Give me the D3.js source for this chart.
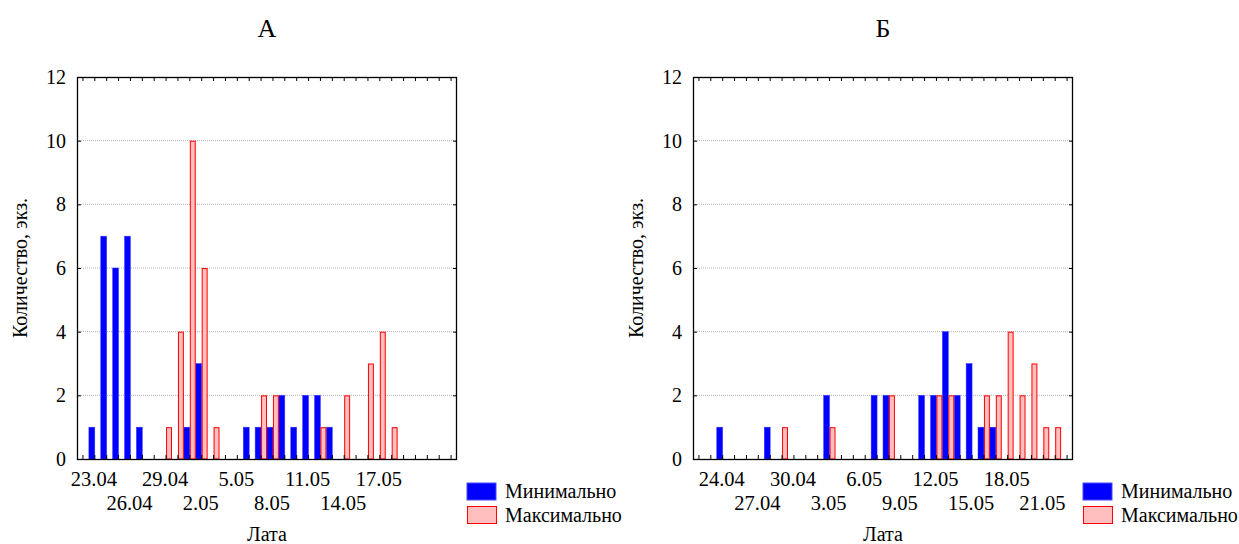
<!DOCTYPE html>
<html><head><meta charset="utf-8">
<script src="https://cdn.jsdelivr.net/npm/d3@7"></script>
</head>
<body style="margin:0;background:#fff"><svg id="c" width="1239" height="544"></svg>
<script>
// categories: days from 22.04 to 23.05
const dates = ["22.04","23.04","24.04","25.04","26.04","27.04","28.04","29.04","30.04",
  "1.05","2.05","3.05","4.05","5.05","6.05","7.05","8.05","9.05","10.05","11.05","12.05",
  "13.05","14.05","15.05","16.05","17.05","18.05","19.05","20.05","21.05","22.05","23.05"];
// Panel А
const minA = [0,1,7,6,7,1,0,0,0, 1,3,0,0,0,1,1,1,2,1,2,2, 1,0,0,0,0,0,0,0,0,0,0];
const maxA = [0,0,0,0,0,0,0,1,4, 10,6,1,0,0,0,2,2,0,0,0,1, 0,2,0,3,4,1,0,0,0,0,0];
const labelsA = ["23.04","26.04","29.04","2.05","5.05","8.05","11.05","14.05","17.05"];
// Panel Б
const minB = [0,0,1,0,0,0,1,0,0, 0,0,2,0,0,0,2,2,0,0,2,2, 4,2,3,1,1,0,0,0,0,0,0];
const maxB = [0,0,0,0,0,0,0,1,0, 0,0,1,0,0,0,0,2,0,0,0,2, 2,0,0,2,2,4,2,3,1,1,0];
const labelsB = ["24.04","27.04","30.04","3.05","6.05","9.05","12.05","15.05","18.05","21.05"];
const yTicks = [0,2,4,6,8,10,12];
const seriesNames = ["Минимально","Максимально"];

const FONT = "Liberation Serif";
const svg = d3.select("#c");

function panel(opt){
  const {x0, title, mins, maxs, labels} = opt;
  const W = 380, top = 77, bottom = 459;
  const g = svg.append("g");
  const x = d3.scaleBand().domain(dates).range([x0, x0+W]).padding(0);
  const sub = d3.scaleBand().domain(["min","max"]).range([0, x.bandwidth()]).padding(0);
  const y = d3.scaleLinear().domain([0,12]).range([bottom, top]);

  // grid
  g.append("g").selectAll("line").data(yTicks.filter(v=>v>0 && v<12)).join("line")
    .attr("x1", x0).attr("x2", x0+W).attr("y1", d=>y(d)).attr("y2", d=>y(d))
    .attr("stroke","#b4b4b4").attr("stroke-width",1).attr("stroke-dasharray","1,1");

  // bars
  const data = dates.map((d,i)=>({d, min:mins[i], max:maxs[i]}));
  g.append("g").selectAll("rect").data(data.filter(e=>e.min>0)).join("rect")
    .attr("x", e=>x(e.d)+sub("min")).attr("width", sub.bandwidth())
    .attr("y", e=>y(e.min)).attr("height", e=>y(0)-y(e.min))
    .attr("fill","#0000ff").attr("stroke","#3a3aff").attr("stroke-width",0.5);
  g.append("g").selectAll("rect").data(data.filter(e=>e.max>0)).join("rect")
    .attr("x", e=>x(e.d)+sub("max")+0.5).attr("width", sub.bandwidth()-1)
    .attr("y", e=>y(e.max)+0.5).attr("height", e=>y(0)-y(e.max)-0.5)
    .attr("fill","#ffbfbf").attr("stroke","#ff0000").attr("stroke-width",1);

  // frame
  g.append("rect").attr("x",x0+0.5).attr("y",top+0.5).attr("width",W-1).attr("height",bottom-top)
    .attr("fill","none").attr("stroke","#000").attr("stroke-width",1.3);

  // axes
  const axL = d3.axisLeft(y).tickValues(yTicks).tickSizeInner(-4).tickSizeOuter(0).tickPadding(11);
  const gl = g.append("g").attr("transform",`translate(${x0},0)`).call(axL);
  gl.select(".domain").remove();
  gl.selectAll("text").attr("dy","0.33em").style("font-family",FONT).style("font-size","20px").attr("fill","#000");
  const axR = d3.axisRight(y).tickValues(yTicks).tickSizeInner(-4).tickSizeOuter(0).tickFormat("");
  const gr = g.append("g").attr("transform",`translate(${x0+W},0)`).call(axR);
  gr.select(".domain").remove();
  const axT = d3.axisTop(x).tickSizeInner(-4).tickSizeOuter(0).tickFormat("");
  const gt = g.append("g").attr("transform",`translate(0,${top})`).call(axT);
  gt.select(".domain").remove();
  const axB = d3.axisBottom(x).tickSizeInner(-4).tickSizeOuter(0).tickFormat("");
  const gb = g.append("g").attr("transform",`translate(0,${bottom})`).call(axB);
  gb.select(".domain").remove();
  g.selectAll(".tick line").attr("stroke","#000");

  const tg = g.append("g");
  // x tick labels (two staggered rows)
  tg.append("g").selectAll("text").data(labels).join("text")
    .attr("x", d=>x(d)+x.bandwidth()/2-1)
    .attr("y", (d,i)=> i%2===0 ? 486 : 510)
    .attr("text-anchor","middle").style("font-family",FONT).style("font-size","20.5px").text(d=>d);

  // titles
  tg.append("text").attr("x", x0+W/2).attr("y", 37).attr("text-anchor","middle")
    .style("font-family",FONT).style("font-size","26px").text(title);
  tg.append("text").attr("x", x0+W/2).attr("y", 541).attr("text-anchor","middle")
    .style("font-family",FONT).style("font-size","20px").text("Лата");
  tg.append("text").attr("transform",`translate(${x0-50},268) rotate(-90)`)
    .attr("text-anchor","middle").style("font-family",FONT).style("font-size","20px").text("Количество, экз.");

  // legend
  const lx = x0+W+10;
  const lg = tg.append("g");
  lg.append("rect").attr("x",lx).attr("y",483).attr("width",29).attr("height",17)
    .attr("fill","#0000ff").attr("stroke","#4a4aff").attr("stroke-width",1);
  lg.append("rect").attr("x",lx+0.5).attr("y",506.5).attr("width",29).attr("height",17)
    .attr("fill","#ffbfbf").attr("stroke","#ff0000").attr("stroke-width",1);
  lg.append("text").attr("x",lx+38).attr("y",498).style("font-family",FONT).style("font-size","20px").text(seriesNames[0]);
  lg.append("text").attr("x",lx+38).attr("y",522).style("font-family",FONT).style("font-size","20px").text(seriesNames[1]);
}

panel({x0:77, title:"А", mins:minA, maxs:maxA, labels:labelsA});
panel({x0:693, title:"Б", mins:minB, maxs:maxB, labels:labelsB});
</script></body></html>
